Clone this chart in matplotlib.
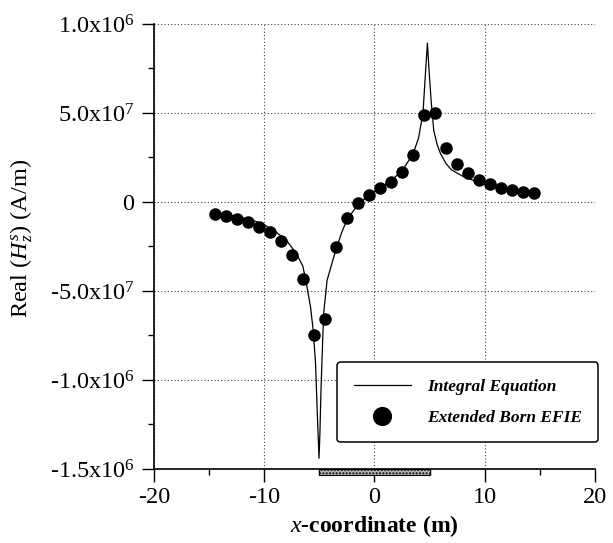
import numpy as np
import matplotlib
matplotlib.use("Agg")
import matplotlib.pyplot as plt
from matplotlib.patches import Rectangle
from matplotlib.transforms import blended_transform_factory
from matplotlib.ticker import FixedLocator, FixedFormatter

plt.rcParams['font.family'] = ['Liberation Serif', 'DejaVu Serif']
plt.rcParams['mathtext.fontset'] = 'custom'
plt.rcParams['mathtext.rm'] = 'Liberation Serif'
plt.rcParams['mathtext.it'] = 'Liberation Serif:italic'
plt.rcParams['mathtext.bf'] = 'Liberation Serif:bold'
plt.rcParams['axes.unicode_minus'] = False

# Integral equation solution (x in m, field in 1e6 A/m)
ie_x = [-14.5, -13.5, -12.5, -11.5, -10.5, -10.0, -9.0, -8.0, -7.5, -7.0,
        -6.5, -6.2, -5.8, -5.56, -5.35, -5.19, -5.03, -4.95, -4.85, -4.7,
        -4.6, -4.3, -3.7, -3.0, -2.5, -1.5, -0.5, 0.5, 1.5, 2.5,
        3.5, 4.0, 4.4, 4.6, 4.8, 4.97, 5.15, 5.38, 5.7, 6.0,
        6.5, 7.0, 8.0, 9.0, 10.0, 11.0, 12.0, 13.0, 14.5]
ie_y = [-0.060, -0.068, -0.080, -0.095, -0.115, -0.128, -0.165, -0.215, -0.255, -0.300,
        -0.360, -0.450, -0.590, -0.720, -0.900, -1.180, -1.440, -1.300, -1.050, -0.780,
        -0.620, -0.440, -0.310, -0.175, -0.100, -0.015, 0.040, 0.080, 0.120, 0.175,
        0.270, 0.360, 0.500, 0.700, 0.893, 0.720, 0.560, 0.400, 0.320, 0.270,
        0.215, 0.180, 0.145, 0.120, 0.100, 0.085, 0.072, 0.062, 0.050]

# Extended Born EFIE samples
born_x = [-14.5, -13.5, -12.5, -11.5, -10.5, -9.5, -8.5, -7.5, -6.5, -5.5,
          -4.5, -3.5, -2.5, -1.5, -0.5, 0.5, 1.5, 2.5, 3.5, 4.5,
          5.5, 6.5, 7.5, 8.5, 9.5, 10.5, 11.5, 12.5, 13.5, 14.5]
born_y = [-0.069, -0.079, -0.096, -0.114, -0.139, -0.169, -0.219, -0.298, -0.431, -0.749,
          -0.659, -0.251, -0.089, -0.007, 0.039, 0.077, 0.112, 0.170, 0.264, 0.489,
          0.498, 0.302, 0.213, 0.161, 0.124, 0.101, 0.080, 0.067, 0.058, 0.049]

ytick_vals = [-1.5e6, -1.0e6, -0.5e6, 0, 0.5e6, 1.0e6]
ytick_labels = ['-1.5x10$^{6}$', '-1.0x10$^{6}$', '-5.0x10$^{7}$', '0',
                '5.0x10$^{7}$', '1.0x10$^{6}$']
xtick_vals = [-20, -10, 0, 10, 20]

fig = plt.figure(figsize=(6.13, 5.43), dpi=100)
ax = fig.add_axes([0.2512, 0.1363, 0.7194, 0.8195])

ax.plot(ie_x, np.array(ie_y) * 1e6, color='black', lw=0.9,
        label='Integral Equation', zorder=3)
ax.plot(born_x, np.array(born_y) * 1e6, 'o', color='black', ms=8,
        label='Extended Born EFIE', zorder=4)

ax.set_xlim(-20, 20)
ax.set_ylim(-1.5e6, 1.0e6)
ax.xaxis.set_major_locator(FixedLocator(xtick_vals))
ax.xaxis.set_minor_locator(FixedLocator([-15, -5, 5, 15]))
ax.yaxis.set_major_locator(FixedLocator(ytick_vals))
ax.yaxis.set_major_formatter(FixedFormatter(ytick_labels))
ax.yaxis.set_minor_locator(FixedLocator([-1.25e6, -0.75e6, -0.25e6, 0.25e6, 0.75e6]))

ax.tick_params(which='major', direction='out', length=9, width=1.0,
               labelsize=17.5)
ax.tick_params(axis='y', which='major', pad=5)
ax.tick_params(axis='x', which='major', pad=4)
ax.tick_params(which='minor', direction='out', length=4, width=1.0)

ax.grid(True, which='major', color='#444444', lw=0.8, ls=(0, (1, 2)))
for side in ['top', 'right']:
    ax.spines[side].set_visible(False)
for side in ['left', 'bottom']:
    ax.spines[side].set_linewidth(1.2)

# source strip on the x axis
trans = blended_transform_factory(ax.transData, ax.transAxes)
ax.add_patch(Rectangle((-5, 0), 10, -0.013, transform=trans, clip_on=False,
                       facecolor='#b5b5b5', edgecolor='black', hatch='.....',
                       lw=0.8, zorder=5))

ax.set_xlabel('$x$-coordinate (m)', fontsize=17, fontweight='bold')
ax.xaxis.set_label_coords(0.5, -0.10)
ax.set_ylabel('Real $(H_{z}^{s})$ (A/m)', fontsize=17.5)
ax.yaxis.set_label_coords(-0.27, 0.517)

leg = ax.legend(loc='center', bbox_to_anchor=(0.7115, 0.1495), fancybox=True,
                framealpha=1, edgecolor='black', handlelength=3.3,
                handletextpad=0.9, labelspacing=0.85, borderpad=0.95,
                borderaxespad=0, markerscale=1.6,
                prop={'family': 'Liberation Serif', 'style': 'italic',
                      'weight': 'bold', 'size': 12.5})
leg.get_frame().set_linewidth(1.1)

fig.savefig('out.png', dpi=100)
